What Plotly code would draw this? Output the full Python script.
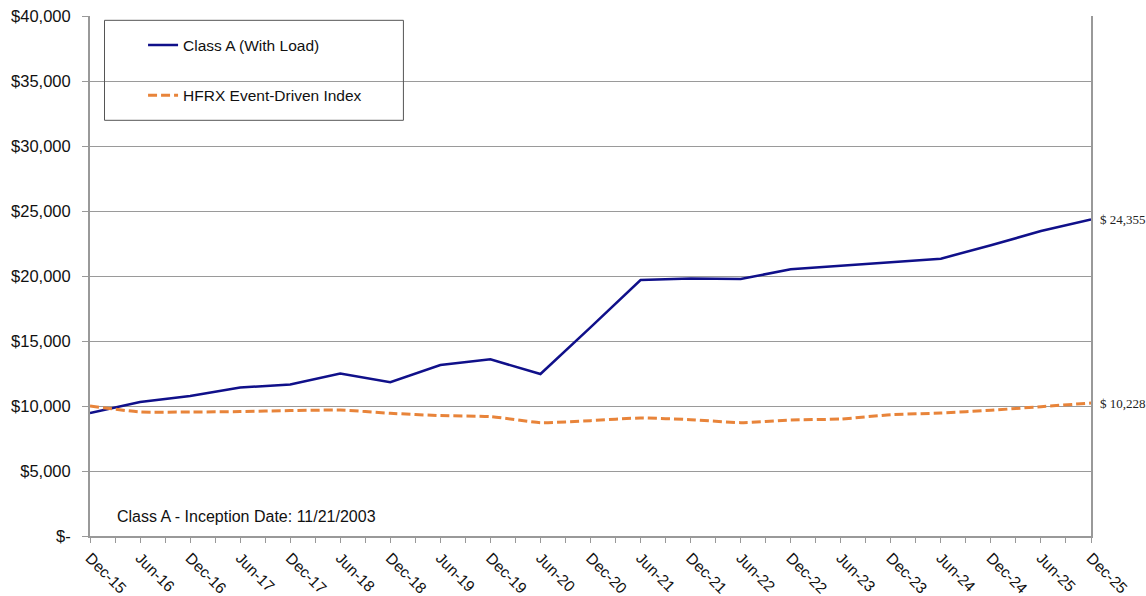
import plotly.graph_objects as go

periods = ["Dec-15", "Jun-16", "Dec-16", "Jun-17", "Dec-17", "Jun-18", "Dec-18",
           "Jun-19", "Dec-19", "Jun-20", "Dec-20", "Jun-21", "Dec-21", "Jun-22",
           "Dec-22", "Jun-23", "Dec-23", "Jun-24", "Dec-24", "Jun-25", "Dec-25"]

class_a = [9450, 10310, 10770, 11415, 11660, 12490, 11830, 13155, 13590, 12460,
           16050, 19690, 19800, 19770, 20515, 20770, 21030, 21335, 22360, 23460, 24355]

hfrx = [10000, 9540, 9540, 9570, 9645, 9690, 9440, 9260, 9185, 8720,
        8875, 9080, 8950, 8720, 8925, 9000, 9335, 9460, 9670, 9950, 10228]

y_ticks = [0, 5000, 10000, 15000, 20000, 25000, 30000, 35000, 40000]
y_tick_text = ["$-", "$5,000", "$10,000", "$15,000", "$20,000", "$25,000",
               "$30,000", "$35,000", "$40,000"]

series_names = ["Class A (With Load)", "HFRX Event-Driven Index"]
inception_note = "Class A - Inception Date: 11/21/2003"

x_pos = list(range(len(periods)))
FONT = "Liberation Sans, Arial, sans-serif"

fig = go.Figure()
fig.add_trace(go.Scatter(
    x=x_pos, y=class_a, mode="lines", name=series_names[0],
    legendgroup="a",
    line=dict(color="#10108a", width=2.5),
    hoverinfo="skip"))
fig.add_trace(go.Scatter(
    x=x_pos, y=hfrx, mode="lines", name=series_names[1],
    legendgroup="b",
    line=dict(color="#e8843a", width=3, dash="9px,4px", shape="spline", smoothing=0.5),
    hoverinfo="skip"))

# end-value labels
for vals in (class_a, hfrx):
    fig.add_annotation(x=x_pos[-1], y=vals[-1], xref="x", yref="y",
                       text=f"$ {vals[-1]:,}", showarrow=False,
                       xanchor="left", yanchor="middle", xshift=7,
                       font=dict(family="Liberation Serif, Times New Roman, serif",
                                 size=13, color="#222222"))

fig.add_annotation(x=0.025, y=0.037, xref="paper", yref="paper",
                   text=inception_note, showarrow=False,
                   xanchor="left", yanchor="middle",
                   font=dict(family=FONT, size=16, color="#111111"))

# legend frame
fig.add_shape(type="rect", xref="paper", yref="paper",
              x0=0.0145, x1=0.3131, y0=0.7994, y1=0.9917,
              line=dict(color="#555555", width=1), fillcolor="rgba(0,0,0,0)")

fig.update_layout(
    width=1146, height=596,
    margin=dict(l=89.5, r=55.3, t=15.7, b=60.3, autoexpand=False),
    paper_bgcolor="white", plot_bgcolor="white",
    font=dict(family=FONT, size=16, color="#111111"),
    showlegend=True,
    legend=dict(x=0.053, y=0.976, xanchor="left", yanchor="top",
                bgcolor="rgba(0,0,0,0)", borderwidth=0,
                font=dict(family=FONT, size=15.5, color="#111111"),
                tracegroupgap=27, traceorder="grouped"),
)

fig.update_xaxes(
    range=[0, len(periods) - 1],
    tickmode="array", tickvals=x_pos, ticktext=periods,
    tickangle=45, ticks="outside", ticklen=5, tickcolor="#999999",
    showline=True, linecolor="#999999", linewidth=2, mirror=False,
    showgrid=False, zeroline=False,
    minor=dict(ticks="outside", ticklen=5, tickcolor="#999999", dtick=0.5, tick0=0, showgrid=False),
    tickfont=dict(family=FONT, size=15.5, color="#111111"),
)
fig.update_yaxes(
    range=[0, 40000],
    tickmode="array", tickvals=y_ticks, ticktext=y_tick_text,
    ticks="outside", ticklen=6, tickcolor="#999999",
    ticklabelstandoff=8,
    showline=True, linecolor="#999999", linewidth=2, mirror=True,
    showgrid=True, gridcolor="#9a9a9a", gridwidth=1,
    zeroline=False,
    tickfont=dict(family=FONT, size=16.5, color="#111111"),
)

fig.write_html("out.html", config={"displayModeBar": False},
               post_script="document.body.style.margin='0';document.body.style.overflow='hidden';")
